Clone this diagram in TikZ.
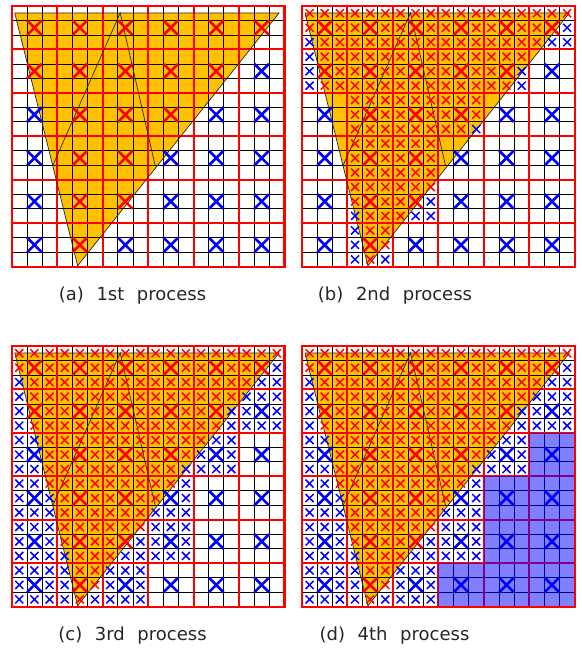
\documentclass[tikz,border=0pt]{standalone}
\usepackage{fontspec}
\setmainfont{DejaVu Sans}[WordSpace=2.2]
\usetikzlibrary{shapes.misc}

\definecolor{triorange}{RGB}{255,192,0}
\definecolor{xred}{RGB}{255,0,0}
\definecolor{xblue}{RGB}{0,0,255}

\begin{document}
\begin{tikzpicture}[x=1pt, y=-1pt, font=\fontsize{18}{20}\selectfont,
  fine/.style={black, line width=0.7pt},
  coarse/.style={xred, line width=2pt},
  frame/.style={xred, line width=2.2pt},
  tri/.style={black!85, line width=0.7pt},
  bigx/.style={cross out, draw, minimum size=12pt, inner sep=0pt, line width=2.6pt},
  smallx/.style={cross out, draw, minimum size=6.5pt, inner sep=0pt, line width=1.5pt},
  done/.style={fill=xblue, fill opacity=0.5},
  captext/.style={text=black!85, inner sep=0pt}]

\useasboundingbox (0,0) rectangle (581,650);

%% red range of fine columns in each fine row (inside the triangle)
\def\redlo{{0,0,1,1,1,1,2,2,2,2,3,3,3,3,4,4,4,4}}
\def\redhi{{17,16,15,14,13,13,12,11,10,10,9,8,8,7,6,5,5,4}}

%% refined coarse columns in each coarse row, per process
\def\loA{{6,6,6,6,6,6}}  \def\hiA{{-1,-1,-1,-1,-1,-1}}
\def\loB{{0,0,1,1,1,1}}  \def\hiB{{5,4,3,2,2,1}}
\def\loC{{0,0,0,0,0,0}}  \def\hiC{{5,5,4,3,3,2}}

%% ===================== four panels =====================
\foreach \px/\py/\p/\rlo/\rhi/\shade in {
    11.7/6/a/\loA/\hiA/0, 302/6/b/\loB/\hiB/0,
    11.7/346/c/\loC/\hiC/0, 302/346/d/\loC/\hiC/1}{
  \begin{scope}[shift={(\px,\py)}, xscale=15.15, yscale=14.48]
    \coordinate (tl) at (0.2,0.48);
    \coordinate (tr) at (17.65,0.48);
    \coordinate (bot) at (4.35,17.95);
    \coordinate (apex) at (7.16,0.48);
    \coordinate (bl) at (2.71,11.03);
    \coordinate (br) at (9.47,11.03);

    \fill[triorange] (tl) -- (tr) -- (bot) -- cycle;

    % grid: fine cells, then coarse cells
    \foreach \k in {0,...,18}{
      \draw[fine] (\k,0) -- (\k,18);
      \draw[fine] (0,\k) -- (18,\k);
    }
    \foreach \k in {3,6,...,15}{
      \draw[coarse] (\k,0) -- (\k,18);
      \draw[coarse] (0,\k) -- (18,\k);
    }

    \draw[tri] (tl) -- (tr) -- (bot) -- cycle;
    \draw[tri] (apex) -- (bl) -- (br) -- cycle;

    % crosses: red inside the triangle, blue outside
    \foreach \J in {0,...,5}{
      \pgfmathtruncatemacro\flo{\rlo[\J]}
      \pgfmathtruncatemacro\fhi{\rhi[\J]}
      \foreach \I in {0,...,5}{
        \pgfmathtruncatemacro\isref{and(\I>=\flo,\I<=\fhi)}
        \ifnum\isref=1
          \foreach \i in {0,1,2}{
            \foreach \j in {0,1,2}{
              \pgfmathtruncatemacro\fc{3*\I+\i}
              \pgfmathtruncatemacro\fr{3*\J+\j}
              \pgfmathtruncatemacro\rl{\redlo[\fr]}
              \pgfmathtruncatemacro\rh{\redhi[\fr]}
              \pgfmathtruncatemacro\isred{and(\fc>=\rl,\fc<=\rh)}
              \pgfmathtruncatemacro\iscen{and(\i==1,\j==1)}
              \ifnum\isred=1 \def\xcol{xred}\else\def\xcol{xblue}\fi
              \ifnum\iscen=1 \def\xsty{bigx}\else\def\xsty{smallx}\fi
              \node[\xsty, draw=\xcol] (x\p-\fc-\fr) at (\fc+0.5,\fr+0.5) {};
            }
          }
        \else
          \ifnum\shade=1
            \fill[done] (3*\I,3*\J) rectangle (3*\I+3,3*\J+3);
          \fi
          \pgfmathtruncatemacro\fc{3*\I+1}
          \pgfmathtruncatemacro\fr{3*\J+1}
          \pgfmathtruncatemacro\rl{\redlo[\fr]}
          \pgfmathtruncatemacro\rh{\redhi[\fr]}
          \pgfmathtruncatemacro\isred{and(\fc>=\rl,\fc<=\rh)}
          \ifnum\isred=1 \def\xcol{xred}\else\def\xcol{xblue}\fi
          \node[bigx, draw=\xcol] (x\p-\fc-\fr) at (\fc+0.5,\fr+0.5) {};
        \fi
      }
    }

    \draw[frame] (0,0) rectangle (18,18);
  \end{scope}
}

%% ===================== captions =====================
\node[captext] (capa) at (132.5,296) {(a) 1st process};
\node[captext] (capb) at (395,296) {(b) 2nd process};
\node[captext] (capc) at (132.5,636) {(c) 3rd process};
\node[captext] (capd) at (394.5,636) {(d) 4th process};

\end{tikzpicture}
\end{document}
